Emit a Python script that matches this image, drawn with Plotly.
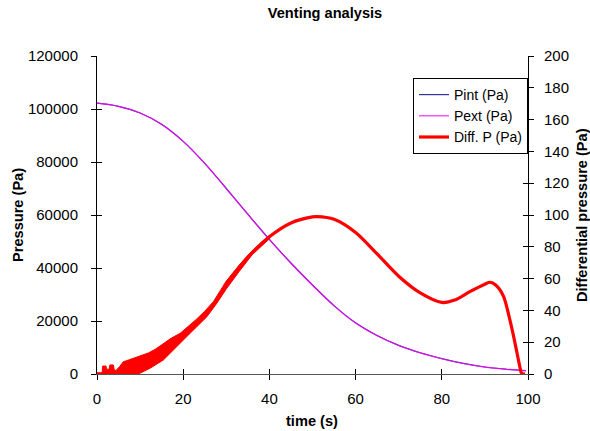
import numpy as np
import plotly.graph_objects as go

# ---- data ----
time_p = [0, 5, 10, 15, 20, 25, 30, 35, 40, 45, 50, 55, 60, 65, 70, 75, 80, 85, 90, 95, 99.5]
pint = [102200, 101000, 98500, 94200, 87800, 79500, 70000, 60300, 50800, 41900,
        33600, 25800, 19300, 14500, 10800, 8000, 5800, 4000, 2650, 1800, 1250]

# smooth part of the differential pressure
time_d = [30, 35, 40, 45, 50, 51, 55, 60, 65, 70, 75, 80, 83, 86.5, 90, 91.2, 92.5,
          94.3, 95.8, 97, 98.1, 98.5, 99.3]
diff = [56.5, 73.5, 86.3, 95, 98.8, 99, 97.3, 89, 75.5, 61.5, 51, 45, 46.5, 51.8,
        56.5, 57.7, 56, 49, 34, 19.3, 4.6, 0.5, 0]

# noisy start of the differential pressure: upper / lower envelope
noise_hi_t = [0, 1.2, 1.3, 2.1, 2.2, 2.8, 3.0, 3.8, 4.0, 4.4, 5.2, 6.1, 7, 8.4, 10,
              11.9, 13.5, 15.4, 17.2, 19.3, 21.2, 23.1, 25, 27, 30, 33, 36, 38, 40]
noise_hi = [0.8, 0.8, 5, 5, 3, 3, 5.7, 5.7, 2.5, 2.2, 4.5, 7.7, 8.5, 9.8, 11.2,
            13.2, 15.5, 19.3, 22.5, 25.6, 30, 34.5, 39.5, 45.5, 58.5, 68.5, 77.5, 82.5, 87.2]
noise_lo_t = [0, 9.6, 12.3, 15.4, 18.5, 21.6, 25.5, 27.8, 30, 33, 36, 38, 40]
noise_lo = [0, 0, 3.6, 8.8, 17.2, 25.6, 36, 44.5, 53.5, 64.5, 75, 80, 85]

x_ticks = [0, 20, 40, 60, 80, 100]
p_ticks = [0, 20000, 40000, 60000, 80000, 100000, 120000]
p_labels = [str(v) for v in p_ticks]
d_ticks = list(range(0, 201, 20))

# Pext = Pint - differential pressure (difference invisible at this scale)
diff_all_t = noise_lo_t[:8] + time_d
diff_all = noise_lo[:8] + diff
pext = list(np.array(pint) - np.interp(time_p, diff_all_t, diff_all))

FONT = "Liberation Sans, Arial, sans-serif"
RED = "#FF0000"

fig = go.Figure()
fig.add_trace(go.Scatter(x=time_p, y=pint, name="Pint (Pa)", mode="lines",
                         line=dict(color="#333399", width=1.2, shape="spline")))
fig.add_trace(go.Scatter(x=time_p, y=pext, name="Pext (Pa)", mode="lines",
                         line=dict(color="#FF00FF", width=1.2, shape="spline"), opacity=0.85))
band_x = noise_hi_t + noise_lo_t[::-1]
band_y = noise_hi + noise_lo[::-1]
fig.add_trace(go.Scatter(x=band_x, y=band_y, yaxis="y2", mode="lines", fill="toself",
                         fillcolor=RED, line=dict(color=RED, width=1),
                         showlegend=False, hoverinfo="skip"))
fig.add_trace(go.Scatter(x=time_d, y=diff, yaxis="y2", name="Diff. P (Pa)", mode="lines",
                         line=dict(color=RED, width=3.2, shape="spline", smoothing=0.8)))
# empty traces to host the overlay axes that draw the inner half of the ticks
fig.add_trace(go.Scatter(x=[None], y=[None], xaxis="x2", yaxis="y3", showlegend=False))
fig.add_trace(go.Scatter(x=[None], y=[None], yaxis="y4", showlegend=False))

tickfont = dict(family=FONT, size=15, color="black")
common = dict(showgrid=False, zeroline=False, ticklen=5, tickwidth=1, tickcolor="black")

fig.update_layout(
    width=590, height=431, autosize=False,
    margin=dict(l=97, r=62, t=56, b=57),
    paper_bgcolor="white", plot_bgcolor="white",
    font=dict(family=FONT, size=15, color="black"),
    title=dict(text="<b>Venting analysis</b>", font=dict(family=FONT, size=14.6),
               x=325 / 590, xref="container", xanchor="center",
               y=1 - 13 / 431, yref="container", yanchor="middle"),
    xaxis=dict(range=[0, 100], tickvals=x_ticks, ticks="outside", showline=True,
               linecolor="#555555", linewidth=1, tickfont=tickfont,
               ticklabelstandoff=6, **common),
    yaxis=dict(range=[0, 120000], tickvals=p_ticks, ticktext=p_labels, ticks="outside",
               showline=True, linecolor="black", linewidth=1, tickfont=tickfont,
               ticklabelstandoff=10, **common),
    yaxis2=dict(range=[0, 200], tickvals=d_ticks, ticks="outside", showline=True,
                linecolor="black", linewidth=1, tickfont=tickfont,
                overlaying="y", side="right", anchor="x",
                ticklabelstandoff=7, **common),
    xaxis2=dict(range=[0, 100], tickvals=x_ticks, ticks="inside", showticklabels=False,
                overlaying="x", anchor="y3", side="bottom", showline=False, **common),
    yaxis3=dict(range=[0, 120000], tickvals=p_ticks, ticks="inside", showticklabels=False,
                overlaying="y", anchor="x2", side="left", showline=False, **common),
    yaxis4=dict(range=[0, 200], tickvals=d_ticks, ticks="inside", showticklabels=False,
                overlaying="y", anchor="x", side="right", showline=False, **common),
    legend=dict(x=1.0, xanchor="right", y=1 - 22 / 318, yanchor="top",
                bordercolor="black", borderwidth=1, bgcolor="white",
                font=dict(family=FONT, size=14), itemwidth=30,
                tracegroupgap=0),
    showlegend=True,
)

fig.add_annotation(text="<b>Pressure (Pa)</b>", xref="paper", yref="paper",
                   x=(18 - 97) / 431, y=0.5, textangle=-90, showarrow=False,
                   xanchor="center", yanchor="middle", font=dict(family=FONT, size=14.6))
fig.add_annotation(text="<b>Differential pressure (Pa)</b>", xref="paper", yref="paper",
                   x=(582 - 97) / 431, y=0.5, textangle=-90, showarrow=False,
                   xanchor="center", yanchor="middle", font=dict(family=FONT, size=14.6))
fig.add_annotation(text="<b>time (s)</b>", xref="paper", yref="paper",
                   x=(312 - 97) / 431, y=-(421 - 374) / 318, showarrow=False,
                   xanchor="center", yanchor="middle", font=dict(family=FONT, size=14.6))

fig.write_html("out.html", config={"displayModeBar": False},
               post_script="document.body.style.margin='0';")
